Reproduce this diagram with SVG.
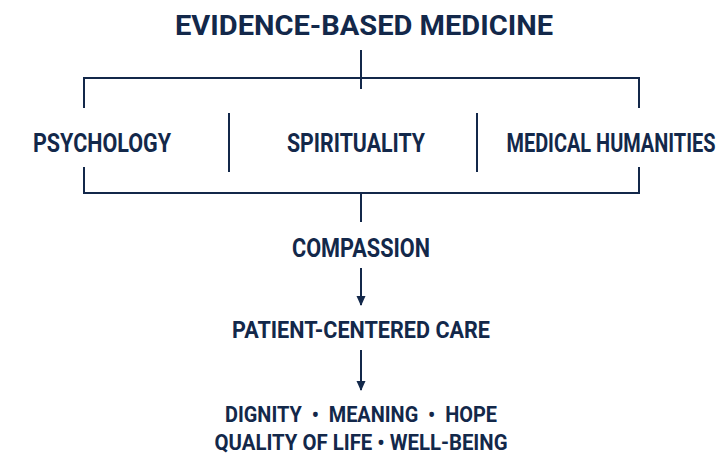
<svg xmlns="http://www.w3.org/2000/svg" width="728" height="461" viewBox="0 0 728 461">
<style>
text{font-family:Roboto,"Liberation Sans",sans-serif;font-weight:700;fill:#13284a;text-anchor:middle}
.t{font-size:28px}
.n{font-size:25px}
.p{font-size:23px}
.s{font-size:21.5px}
.ln{stroke:#13284a;stroke-width:2;fill:none}
</style>
<defs>
<marker id="ah" viewBox="0 0 10 12" refX="9" refY="6" markerWidth="10" markerHeight="12" markerUnits="userSpaceOnUse" orient="auto">
<path d="M0,1.5 L10,6 L0,10.5 z" fill="#13284a"/>
</marker>
</defs>
<rect width="728" height="461" fill="#ffffff"/>
<g id="connectors">
<path class="ln" d="M361,50 V89"/>
<path class="ln" d="M84,108 V78 H639 V108"/>
<path class="ln" d="M229,113 V172"/>
<path class="ln" d="M477,113 V172"/>
<path class="ln" d="M84,167 V193 H639 V167"/>
<path class="ln" d="M361,193 V222"/>
<path class="ln" d="M361,268 V305" marker-end="url(#ah)"/>
<path class="ln" d="M361,350 V390" marker-end="url(#ah)"/>
</g>
<g id="evidence-based-medicine"><text class="t" x="364" y="35" textLength="378" lengthAdjust="spacingAndGlyphs">EVIDENCE-BASED MEDICINE</text></g>
<g id="psychology"><text class="n" x="102" y="152" textLength="138" lengthAdjust="spacingAndGlyphs">PSYCHOLOGY</text></g>
<g id="spirituality"><text class="n" x="356" y="152" textLength="138" lengthAdjust="spacingAndGlyphs">SPIRITUALITY</text></g>
<g id="medical-humanities"><text class="n" x="611" y="152" textLength="209" lengthAdjust="spacingAndGlyphs">MEDICAL HUMANITIES</text></g>
<g id="compassion"><text class="n" x="361" y="257" textLength="138" lengthAdjust="spacingAndGlyphs">COMPASSION</text></g>
<g id="patient-centered-care"><text class="p" x="361" y="338" textLength="258" lengthAdjust="spacingAndGlyphs">PATIENT-CENTERED CARE</text></g>
<g id="outcomes">
<text class="s" x="361" y="422" textLength="272" lengthAdjust="spacingAndGlyphs" xml:space="preserve">DIGNITY  •  MEANING  •  HOPE</text>
<text class="s" x="361" y="450" textLength="293" lengthAdjust="spacingAndGlyphs" xml:space="preserve">QUALITY OF LIFE • WELL-BEING</text>
</g>
</svg>
